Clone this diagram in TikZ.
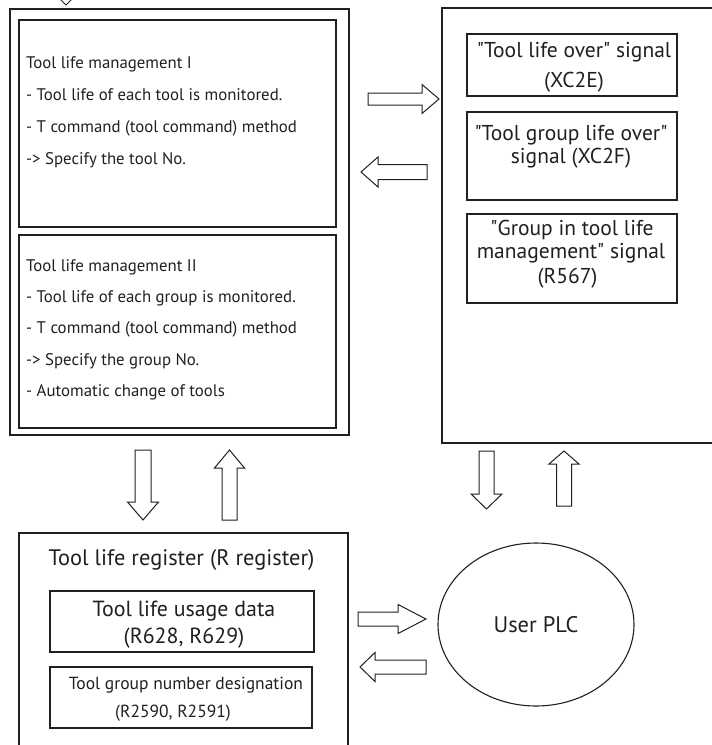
\documentclass[tikz,border=0pt]{standalone}
\usepackage{fontspec}
\setmainfont{PT Sans}
\usetikzlibrary{shapes.geometric}
\definecolor{ink}{HTML}{231F20}
\newcommand{\fsz}[1]{\fontsize{#1}{#1}\selectfont}
\newcommand{\qq}{\textquotedbl}
% tail, head base, tip, centre, shaft half width, head half width
\newcommand{\hblk}[6]{\draw[blk] (#1,#4-#5) -- (#2,#4-#5) -- (#2,#4-#6) -- (#3,#4) -- (#2,#4+#6) -- (#2,#4+#5) -- (#1,#4+#5) -- cycle;}
\newcommand{\vblk}[6]{\draw[blk] (#4-#5,#1) -- (#4-#5,#2) -- (#4-#6,#2) -- (#4,#3) -- (#4+#6,#2) -- (#4+#5,#2) -- (#4+#5,#1) -- cycle;}
\tikzset{
  boxline/.style={draw=ink, line width=1.3pt},
  rbox/.style={boxline, rectangle, inner sep=0pt},
  blk/.style={draw=ink, line width=1pt, fill=white, line join=miter},
  ltxt/.style={inner sep=0pt, anchor=base west, text=ink, font=\fsz{16.8}},
  ctxt/.style={inner sep=0pt, anchor=base, text=ink},
}
\begin{document}
\begin{tikzpicture}[x=1pt,y=-1pt]
\useasboundingbox (0,0) rectangle (712,745);
\clip (0,0) rectangle (712,745);
\fill[white] (0,0) rectangle (712,745);

% top partial arrow
\vblk{-40}{-10}{5}{66}{7}{15}

% left outer box and inner boxes
\node[rbox, minimum width=339pt, minimum height=426pt] (outerL) at (179.5,222) {};
\node[rbox, minimum width=317pt, minimum height=207pt] (boxI) at (177.5,123.5) {};
\node[rbox, minimum width=317pt, minimum height=193pt] (boxII) at (177.5,331.5) {};

\node[ltxt] (t11) at (26,68) {Tool life management I};
\node[ltxt] (t12) at (26,100.5) {- Tool life of each tool is monitored.};
\node[ltxt] (t13) at (26,132) {- T command (tool command) method};
\node[ltxt] (t14) at (26,164) {-> Specify the tool No.};

\node[ltxt] (t21) at (26,271.5) {Tool life management II};
\node[ltxt] (t22) at (26,302.5) {- Tool life of each group is monitored.};
\node[ltxt] (t23) at (26,333.5) {- T command (tool command) method};
\node[ltxt] (t24) at (26,365) {-> Specify the group No.};
\node[ltxt] (t25) at (26,396.5) {- Automatic change of tools};

% right box (open to the right)
\draw[boxline] (730,8) -- (442,8) -- (442,443) -- (730,443);
\node[rbox, minimum width=210pt, minimum height=62pt] (s1) at (572,65) {};
\node[rbox, minimum width=210pt, minimum height=88pt] (s2) at (572,156) {};
\node[rbox, minimum width=210pt, minimum height=89pt] (s3) at (572,258.5) {};
\begin{scope}[every node/.style={ctxt, font=\fsz{21.5}}]
\node (s1a) at (574,57.5) {\qq Tool life over\qq{} signal};
\node (s1b) at (574,87) {(XC2E)};
\node (s2a) at (571,140) {\qq Tool group life over\qq};
\node (s2b) at (571,163.5) {signal (XC2F)};
\node (s3a) at (572,235) {\qq Group in tool life};
\node (s3b) at (571,258.5) {management\qq{} signal};
\node (s3c) at (567.5,283) {(R567)};
\end{scope}

% bottom register box (open at the bottom)
\draw[boxline] (19,760) -- (19,533) -- (348,533) -- (348,760);
\node[ctxt, font=\fsz{22.4}] (reg) at (181.5,565) {Tool life register (R register)};
\node[rbox, minimum width=264pt, minimum height=61pt] (ua) at (182,621.5) {};
\node[ctxt, font=\fsz{21.9}] (ua1) at (184,616) {Tool life usage data};
\node[ctxt, font=\fsz{21.9}] (ua2) at (184,643) {(R628, R629)};
\node[rbox, minimum width=262pt, minimum height=61pt] (gd) at (181,697.5) {};
\node[ctxt, font=\fsz{17.5}] (gd1) at (186,689) {Tool group number designation};
\node[ctxt, font=\fsz{17.5}] (gd2) at (173,717) {(R2590, R2591)};

% user PLC
\node[ellipse, draw=ink, line width=1.1pt, minimum width=196pt, minimum height=163pt, inner sep=0pt, text=ink, font=\fsz{22.5}] (plc) at (536,624.5) {User PLC};

% block arrows
\hblk{368}{422}{439}{99}{6}{14.5}
\hblk{427}{378}{361}{172}{7.5}{15}
\vblk{450}{502}{520}{143}{8}{15.5}
\vblk{520}{468}{450}{229.5}{7.5}{15}
\vblk{451}{494}{509}{486.5}{7.5}{15.5}
\vblk{506}{464}{451}{564}{7.5}{15}
\hblk{358}{398}{426}{619}{7}{14.5}
\hblk{426}{375}{360}{667}{7}{14.5}
\end{tikzpicture}
\end{document}
